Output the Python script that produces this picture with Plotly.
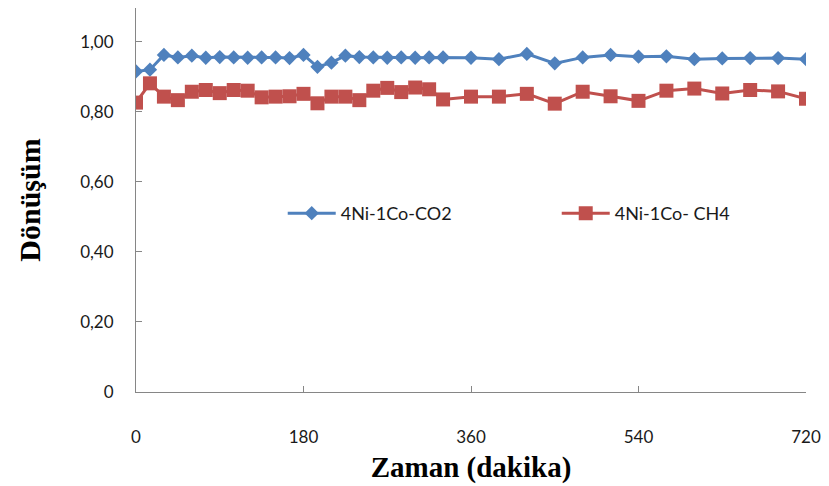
import plotly.graph_objects as go

# zaman (dakika)
zaman = [0, 15, 30, 45, 60, 75, 90, 105, 120, 135, 150, 165, 180, 195, 210, 225,
         240, 255, 270, 285, 300, 315, 330, 360, 390, 420, 450, 480, 510, 540,
         570, 600, 630, 660, 690, 720]

co2 = [0.915, 0.920, 0.962, 0.955, 0.960, 0.954, 0.956, 0.955, 0.954, 0.955,
       0.955, 0.953, 0.962, 0.928, 0.940, 0.960, 0.956, 0.955, 0.954, 0.955,
       0.954, 0.955, 0.955, 0.954, 0.950, 0.965, 0.938, 0.955, 0.962, 0.957,
       0.958, 0.950, 0.952, 0.953, 0.953, 0.950]

ch4 = [0.826, 0.881, 0.843, 0.833, 0.857, 0.862, 0.853, 0.862, 0.860, 0.841,
       0.843, 0.844, 0.851, 0.824, 0.843, 0.843, 0.833, 0.860, 0.868, 0.856,
       0.869, 0.864, 0.835, 0.843, 0.843, 0.851, 0.823, 0.857, 0.844, 0.831,
       0.860, 0.866, 0.852, 0.862, 0.858, 0.837]

x_ticks = [0, 180, 360, 540, 720]
y_ticks = [0, 0.2, 0.4, 0.6, 0.8, 1.0]
y_labels = ["0", "0,20", "0,40", "0,60", "0,80", "1,00"]

fig = go.Figure()
fig.add_trace(go.Scatter(x=zaman, y=co2, name="4Ni-1Co-CO2", mode="lines+markers",
                         line=dict(color="#4F81BD", width=3),
                         marker=dict(symbol="diamond", size=11, color="#4F81BD")))
fig.add_trace(go.Scatter(x=zaman, y=ch4, name="4Ni-1Co- CH4", mode="lines+markers",
                         line=dict(color="#C0504D", width=3),
                         marker=dict(symbol="square", size=14, color="#C0504D")))

axis_font = dict(family="Lato, Liberation Sans, sans-serif", size=17, color="#1a1a1a")
serif = "Liberation Serif, Times New Roman, serif"

# the page body adds 8px around the figure, so the figure is a bit smaller than the window
fig.update_xaxes(range=[0, 720], tickvals=x_ticks, ticks="inside", ticklen=6,
                 tickcolor="#868686", showline=True, linecolor="#868686", linewidth=1,
                 showgrid=False, zeroline=False, tickfont=axis_font, automargin=False,
                 ticklabelstandoff=30,
                 title=dict(text="<b>Zaman (dakika)</b>",
                            font=dict(family=serif, size=29, color="black"), standoff=10))
fig.update_yaxes(range=[0, 1.096], tickvals=y_ticks, ticktext=y_labels, ticks="inside",
                 ticklen=6, tickcolor="#868686", showline=True, linecolor="#868686",
                 linewidth=1, showgrid=False, zeroline=False, tickfont=axis_font,
                 automargin=False, ticklabelstandoff=18,
                 title=dict(text="<b>Dönüşüm</b>",
                            font=dict(family=serif, size=30, color="black"), standoff=30))

fig.update_layout(
    width=813, height=478,
    margin=dict(l=128, r=15, t=0, b=94, autoexpand=False),
    plot_bgcolor="white", paper_bgcolor="white",
    legend=dict(orientation="h", x=0.219, y=0.465, yanchor="middle", xanchor="left",
                font=dict(family="Lato, Liberation Sans, sans-serif", size=18, color="#1a1a1a"),
                itemwidth=48, entrywidth=211, bgcolor="rgba(0,0,0,0)"),
)

fig.write_html("out.html")
